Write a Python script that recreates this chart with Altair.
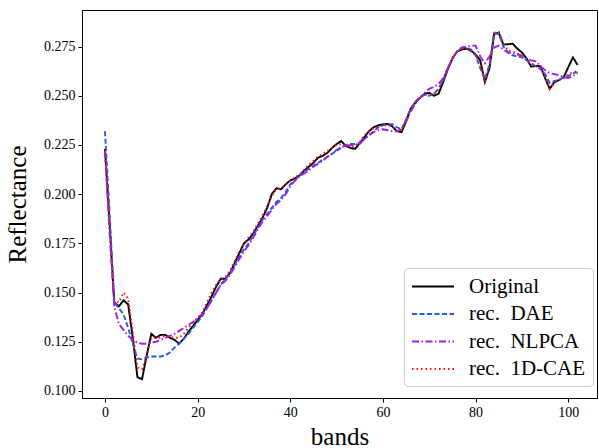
import altair as alt
import pandas as pd

bands = list(range(103))

original = [0.223,0.185,0.145,0.143,0.146,0.144,0.127,0.107,0.106,0.118,
0.129,0.127,0.1285,0.1285,0.127,0.126,0.124,0.1265,0.130,0.133,
0.136,0.139,0.1435,0.148,0.153,0.157,0.157,0.160,0.165,0.170,
0.175,0.177,0.180,0.184,0.188,0.193,0.200,0.203,0.2025,0.205,
0.207,0.208,0.2095,0.212,0.214,0.216,0.2185,0.2195,0.221,0.2235,
0.2255,0.227,0.2245,0.2235,0.223,0.226,0.229,0.232,0.234,0.235,
0.2355,0.2357,0.2345,0.232,0.2315,0.237,0.2435,0.2465,0.249,0.251,
0.2515,0.250,0.251,0.257,0.2635,0.269,0.2725,0.2735,0.274,0.273,
0.271,0.268,0.257,0.264,0.2815,0.282,0.276,0.2762,0.2765,0.274,
0.272,0.269,0.2648,0.2652,0.265,0.259,0.2535,0.257,0.258,0.2595,
0.2645,0.2695,0.2657]

dae = [0.232,0.190,0.145,0.142,0.139,0.132,0.124,0.1165,0.116,0.117,
0.1175,0.1175,0.1175,0.118,0.1195,0.122,0.124,0.1265,0.129,0.132,
0.135,0.138,0.142,0.146,0.150,0.154,0.157,0.160,0.164,0.168,
0.172,0.175,0.179,0.183,0.187,0.190,0.193,0.196,0.198,0.201,
0.205,0.207,0.2095,0.211,0.213,0.2145,0.216,0.2175,0.219,0.2205,
0.222,0.2235,0.225,0.2255,0.2255,0.226,0.228,0.230,0.232,0.234,
0.235,0.2355,0.2355,0.234,0.233,0.238,0.2435,0.247,0.2495,0.2505,
0.250,0.251,0.2535,0.258,0.264,0.269,0.2725,0.2745,0.2745,0.2735,
0.2705,0.264,0.2585,0.266,0.2815,0.2815,0.275,0.272,0.2705,0.270,
0.2695,0.268,0.2665,0.265,0.2635,0.261,0.2565,0.2575,0.258,0.2595,
0.260,0.2615,0.262]

nlpca = [0.222,0.180,0.143,0.134,0.131,0.128,0.126,0.1245,0.124,0.124,
0.1245,0.125,0.126,0.127,0.128,0.129,0.1305,0.132,0.1335,0.135,
0.137,0.139,0.142,0.146,0.150,0.154,0.156,0.159,0.163,0.167,
0.171,0.174,0.178,0.182,0.186,0.189,0.192,0.195,0.197,0.200,
0.204,0.207,0.209,0.2105,0.212,0.214,0.2155,0.217,0.219,0.2205,
0.2225,0.224,0.2245,0.225,0.225,0.2255,0.228,0.230,0.2315,0.2325,
0.233,0.2325,0.232,0.232,0.233,0.237,0.242,0.246,0.249,0.2515,
0.2535,0.2545,0.256,0.259,0.264,0.269,0.2725,0.2745,0.275,0.2755,
0.2755,0.270,0.2665,0.270,0.2745,0.2755,0.2735,0.272,0.2715,0.271,
0.2705,0.269,0.268,0.2675,0.265,0.263,0.2615,0.261,0.2605,0.2595,
0.259,0.260,0.2615]

cae = [0.222,0.186,0.146,0.145,0.150,0.147,0.130,0.112,0.111,0.118,
0.127,0.127,0.127,0.128,0.1275,0.127,0.127,0.129,0.132,0.135,
0.137,0.140,0.145,0.150,0.154,0.157,0.158,0.161,0.166,0.171,
0.175,0.178,0.181,0.185,0.189,0.194,0.199,0.2025,0.203,0.205,
0.207,0.2085,0.210,0.2125,0.215,0.217,0.219,0.2205,0.222,0.2235,
0.225,0.2255,0.2245,0.224,0.2245,0.2265,0.230,0.232,0.2335,0.234,
0.235,0.235,0.2345,0.232,0.2325,0.238,0.2435,0.247,0.249,0.2505,
0.2505,0.251,0.2535,0.2585,0.264,0.269,0.2725,0.274,0.274,0.2725,
0.2705,0.266,0.257,0.265,0.282,0.2825,0.2765,0.273,0.2725,0.2715,
0.2705,0.268,0.2665,0.265,0.264,0.2595,0.2535,0.2565,0.258,0.259,
0.261,0.262,0.2625]

names = ["Original", "rec.\u2002DAE", "rec.\u2002NLPCA", "rec.\u20021D-CAE"]
colors = ["#000000", "#1f5fe8", "#9b1ff0", "#ff1010"]
dashes = [[1, 0], [5, 2.5], [7, 2.5, 1.5, 2.5], [1.5, 3]]
x_ticks = [0, 20, 40, 60, 80, 100]
y_ticks = [0.100, 0.125, 0.150, 0.175, 0.200, 0.225, 0.250, 0.275]

rows = []
for k, (name, vals) in enumerate(zip(names, [original, dae, nlpca, cae])):
    for b, v in zip(bands, vals):
        rows.append({"band": b, "value": v, "series": name, "k": k})
df = pd.DataFrame(rows)

legend = alt.Legend(title=None, orient="none", legendX=322, legendY=258)

chart = alt.Chart(df).mark_line(clip=True, strokeWidth=1.9).encode(
    x=alt.X("band:Q",
            scale=alt.Scale(domain=[-4.96, 106.2], nice=False, zero=False),
            axis=alt.Axis(values=x_ticks, title="bands", format="d")),
    y=alt.Y("value:Q",
            scale=alt.Scale(domain=[0.0964, 0.2936], nice=False, zero=False),
            axis=alt.Axis(values=y_ticks, title="Reflectance", format=".3f")),
    color=alt.Color("series:N", scale=alt.Scale(domain=names, range=colors), legend=legend),
    strokeDash=alt.StrokeDash("series:N", scale=alt.Scale(domain=names, range=dashes), legend=legend),
    order=alt.Order("band:Q"),
).properties(
    width=515, height=388,
    padding={"left": 82, "top": 10, "right": 2, "bottom": 50},
    autosize="none",
).configure_view(
    stroke="black", strokeWidth=1
).configure_axis(
    labelFont="Liberation Serif", labelFontSize=14, labelColor="black",
    titleFont="Liberation Serif", titleFontSize=25, titleFontWeight="normal", titleColor="black",
    domainColor="black", tickColor="black", grid=False, tickSize=4, labelPadding=3,
).configure_axisX(
    titlePadding=5
).configure_axisY(
    titlePadding=13
).configure_legend(
    padding=7,
    strokeColor="#cccccc", cornerRadius=4, fillColor="white",
    labelFont="Liberation Serif", labelFontSize=21, labelColor="black",
    symbolType="M-1,0H3", symbolSize=441, symbolStrokeWidth=2,
    rowPadding=5.5, labelOffset=35,
)

chart.save("out.html", embed_options={"renderer": "svg", "actions": False})
